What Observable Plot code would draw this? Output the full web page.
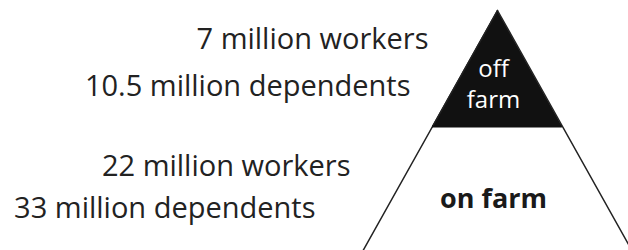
<!DOCTYPE html>
<html><head><meta charset="utf-8">
<script src="https://cdn.jsdelivr.net/npm/d3@7"></script>
<script src="https://cdn.jsdelivr.net/npm/@observablehq/plot@0.6"></script>
<style>body{margin:0;background:#fff;} svg{display:block}</style>
</head><body>
<div id="chart"></div>
<script>
// Data
const tiers = ["off farm", "on farm"];
const workers = [7, 22];        // million
const dependents = [10.5, 33];  // million
const offLabel = ["off", "farm"];
const onLabel = ["on farm"];

// Layout (pixel-space scales)
const apex = {x: 497, y: 10};
const split = 126;              // y of boundary between tiers
const baseY = 260;
const slope = 0.56;             // horizontal spread per vertical px

const halfW = y => (y - apex.y) * slope;

const blackTri = [
  {y: apex.y, x1: apex.x, x2: apex.x},
  {y: split, x1: apex.x - halfW(split), x2: apex.x + halfW(split)}
];
const leftSide = [{x: apex.x, y: apex.y}, {x: apex.x - halfW(baseY), y: baseY}];
const rightSide = [{x: apex.x, y: apex.y}, {x: apex.x + halfW(baseY), y: baseY}];

const leftText = [
  {t: `${workers[0]} million workers`, x: 428, y: 48},
  {t: `${dependents[0]} million dependents`, x: 410, y: 95},
  {t: `${workers[1]} million workers`, x: 350, y: 175},
  {t: `${dependents[1]} million dependents`, x: 315, y: 217}
];
const offText = [
  {t: offLabel[0], x: 493, y: 76},
  {t: offLabel[1], x: 493, y: 107}
];
const onText = [{t: onLabel[0], x: 493, y: 207}];

const chart = Plot.plot({
  width: 628, height: 250,
  margin: 0,
  x: {type: "linear", domain: [0, 628], range: [0, 628], axis: null},
  y: {type: "linear", domain: [0, 250], range: [0, 250], axis: null},
  style: {fontFamily: "'Open Sans', Lato, sans-serif", background: "white"},
  marks: [
    Plot.areaX(blackTri, {y: "y", x1: "x1", x2: "x2", fill: "#111", curve: "linear"}),
    Plot.line(leftSide, {x: "x", y: "y", stroke: "#222", strokeWidth: 1.5}),
    Plot.line(rightSide, {x: "x", y: "y", stroke: "#222", strokeWidth: 1.5}),
    Plot.ruleY([split], {x1: apex.x - halfW(split), x2: apex.x + halfW(split), stroke: "#111", strokeWidth: 2}),
    Plot.text(leftText, {x: "x", y: "y", text: "t", textAnchor: "end", lineAnchor: "bottom", fontSize: 29, fill: "#222"}),
    Plot.text(offText, {x: "x", y: "y", text: "t", textAnchor: "middle", lineAnchor: "bottom", fill: "white", fontSize: 24}),
    Plot.text(onText, {x: "x", y: "y", text: "t", textAnchor: "middle", lineAnchor: "bottom", fill: "#1a1a1a", fontWeight: "bold", fontSize: 27})
  ]
});
document.getElementById("chart").append(chart);
</script>
</body></html>
